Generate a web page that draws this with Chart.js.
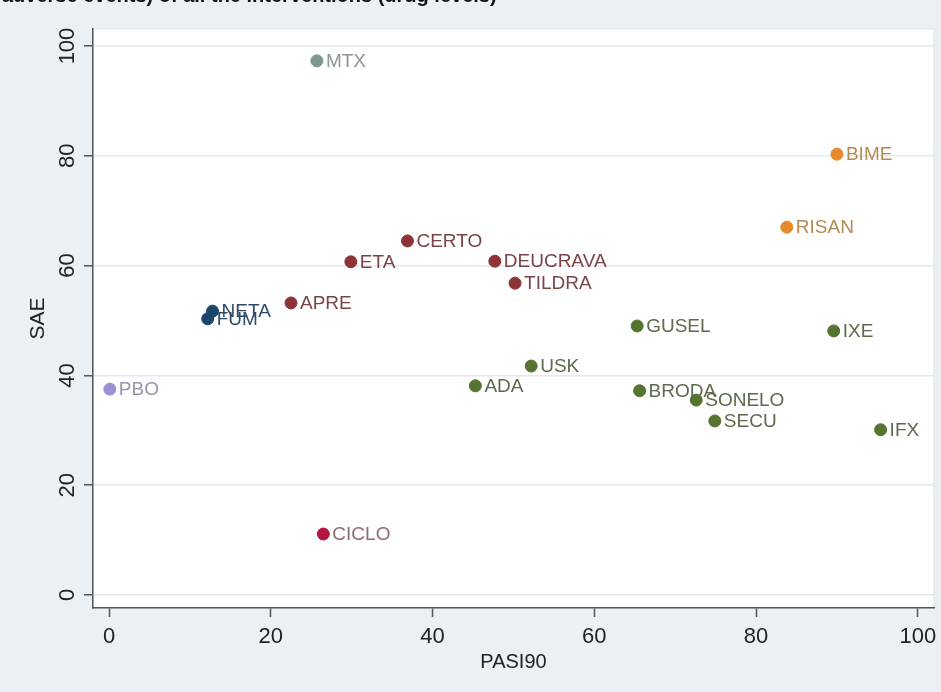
<!DOCTYPE html>
<html lang="en">
<head>
    <meta charset="UTF-8">
    <title>PASI90 vs SAE</title>
    <script src="https://cdn.jsdelivr.net/npm/chart.js"></script>
    <style>
        html, body { margin: 0; padding: 0; background: #eaf0f3; }
        #wrap { width: 941px; height: 692px; }
    </style>
</head>
<body>
    <div id="wrap"><canvas id="scatter"></canvas></div>

    <script>
        // drug levels: PASI90 (x) and serious adverse events SAE (y)
        const drugs  = ['MTX', 'BIME', 'RISAN', 'CERTO', 'ETA', 'DEUCRAVA', 'TILDRA', 'APRE', 'NETA', 'FUM',
                        'GUSEL', 'IXE', 'USK', 'PBO', 'ADA', 'BRODA', 'SONELO', 'SECU', 'IFX', 'CICLO'];
        const pasi90 = [25.7, 90.0, 83.8, 36.9, 29.9, 47.7, 50.2, 22.5, 12.8, 12.2,
                        65.3, 89.6, 52.2, 0.1, 45.3, 65.6, 72.6, 74.9, 95.4, 26.5];
        const sae    = [97.3, 80.3, 67.0, 64.5, 60.7, 60.8, 56.8, 53.2, 51.7, 50.3,
                        49.0, 48.1, 41.7, 37.5, 38.1, 37.2, 35.5, 31.7, 30.1, 11.1];
        const cluster = [0, 1, 1, 2, 2, 2, 2, 2, 3, 3,
                         4, 4, 4, 5, 4, 4, 4, 4, 4, 6];
        const xTicks = [0, 20, 40, 60, 80, 100];
        const yTicks = [0, 20, 40, 60, 80, 100];

        // cluster colours (marker / label)
        const markerCol = ['#7d988d', '#e68a2c', '#8e3438', '#1b466b', '#55742f', '#9c90d4', '#b3153f'];
        const labelCol  = ['#8a9690', '#b48a52', '#7a4446', '#2e4a66', '#5b6b4b', '#9893b0', '#8f6a74'];

        const ptColors = cluster.map(c => markerCol[c]);
        const FONT = '"Liberation Sans", Arial, sans-serif';

        const extras = {
            id: 'extras',
            beforeDraw(chart) {
                const ctx = chart.ctx;
                const a = chart.chartArea;
                ctx.save();
                ctx.fillStyle = '#eaf0f3';
                ctx.fillRect(0, 0, chart.width, chart.height);
                ctx.fillStyle = '#ffffff';
                ctx.fillRect(a.left, a.top, a.right - a.left, a.bottom - a.top);
                ctx.strokeStyle = '#dde5e8';
                ctx.lineWidth = 1;
                ctx.strokeRect(a.left, a.top, a.right - a.left, a.bottom - a.top);

                // title remnant cut by the top edge
                ctx.fillStyle = '#111';
                ctx.font = 'bold 20px ' + FONT;
                ctx.textBaseline = 'alphabetic';
                ctx.fillText('adverse events) of all the interventions (drug levels)', 2, 2);
                ctx.restore();
            },
            afterDraw(chart) {
                const ctx = chart.ctx;
                const ys = chart.scales.y;
                ctx.save();
                // vertical y tick labels
                ctx.fillStyle = '#222';
                ctx.font = '22px ' + FONT;
                ctx.textAlign = 'center';
                ctx.textBaseline = 'middle';
                yTicks.forEach(v => {
                    const py = ys.getPixelForValue(v);
                    ctx.save();
                    ctx.translate(68, py);
                    ctx.rotate(-Math.PI / 2);
                    ctx.fillText(String(v), 0, 0);
                    ctx.restore();
                });
                ctx.restore();
            },
            afterDatasetsDraw(chart) {
                const ctx = chart.ctx;
                const meta = chart.getDatasetMeta(0);
                ctx.save();
                ctx.font = '19px ' + FONT;
                ctx.textAlign = 'left';
                ctx.textBaseline = 'middle';
                meta.data.forEach((pt, i) => {
                    ctx.fillStyle = labelCol[cluster[i]];
                    ctx.fillText(drugs[i], pt.x + 9, pt.y + 1);
                });
                ctx.restore();
            }
        };

        const ctx = document.getElementById('scatter').getContext('2d');
        new Chart(ctx, {
            type: 'scatter',
            data: {
                datasets: [{
                    label: 'drugs',
                    data: pasi90.map((v, i) => ({ x: v, y: sae[i] })),
                    pointBackgroundColor: ptColors,
                    pointBorderColor: ptColors,
                    pointRadius: 6,
                    pointHoverRadius: 6
                }]
            },
            options: {
                responsive: true,
                maintainAspectRatio: false,
                animation: false,
                layout: { padding: { left: 0, right: 6, top: 29, bottom: 0 } },
                plugins: {
                    legend: { display: false },
                    tooltip: { enabled: false }
                },
                scales: {
                    x: {
                        type: 'linear',
                        min: -1.98,
                        max: 102,
                        afterBuildTicks: s => { s.ticks = xTicks.map(v => ({ value: v })); },
                        afterFit: s => { s.height = 84; s.paddingLeft = 0; s.paddingRight = 0; },
                        border: { display: true, color: '#555', width: 1.5 },
                        grid: { drawOnChartArea: false, drawTicks: true, tickLength: 9, tickColor: '#555', tickWidth: 1.5 },
                        ticks: {
                            color: '#222',
                            padding: 7,
                            font: { family: FONT, size: 22 }
                        },
                        title: {
                            display: true,
                            text: 'PASI90',
                            color: '#222',
                            padding: { top: 0, bottom: 18 },
                            font: { family: FONT, size: 20 }
                        }
                    },
                    y: {
                        type: 'linear',
                        min: -2.37,
                        max: 103.1,
                        afterBuildTicks: s => { s.ticks = yTicks.map(v => ({ value: v })); },
                        afterFit: s => { s.width = 93; s.paddingTop = 0; s.paddingBottom = 0; },
                        border: { display: true, color: '#555', width: 1.5 },
                        grid: { color: '#e3eaed', lineWidth: 1.5, drawTicks: true, tickLength: 9, tickColor: '#555', tickWidth: 1.5 },
                        ticks: { display: false },
                        title: {
                            display: true,
                            text: 'SAE',
                            color: '#222',
                            padding: { top: 26, bottom: 0 },
                            font: { family: FONT, size: 21 }
                        }
                    }
                }
            },
            plugins: [extras]
        });
    </script>
</body>
</html>
